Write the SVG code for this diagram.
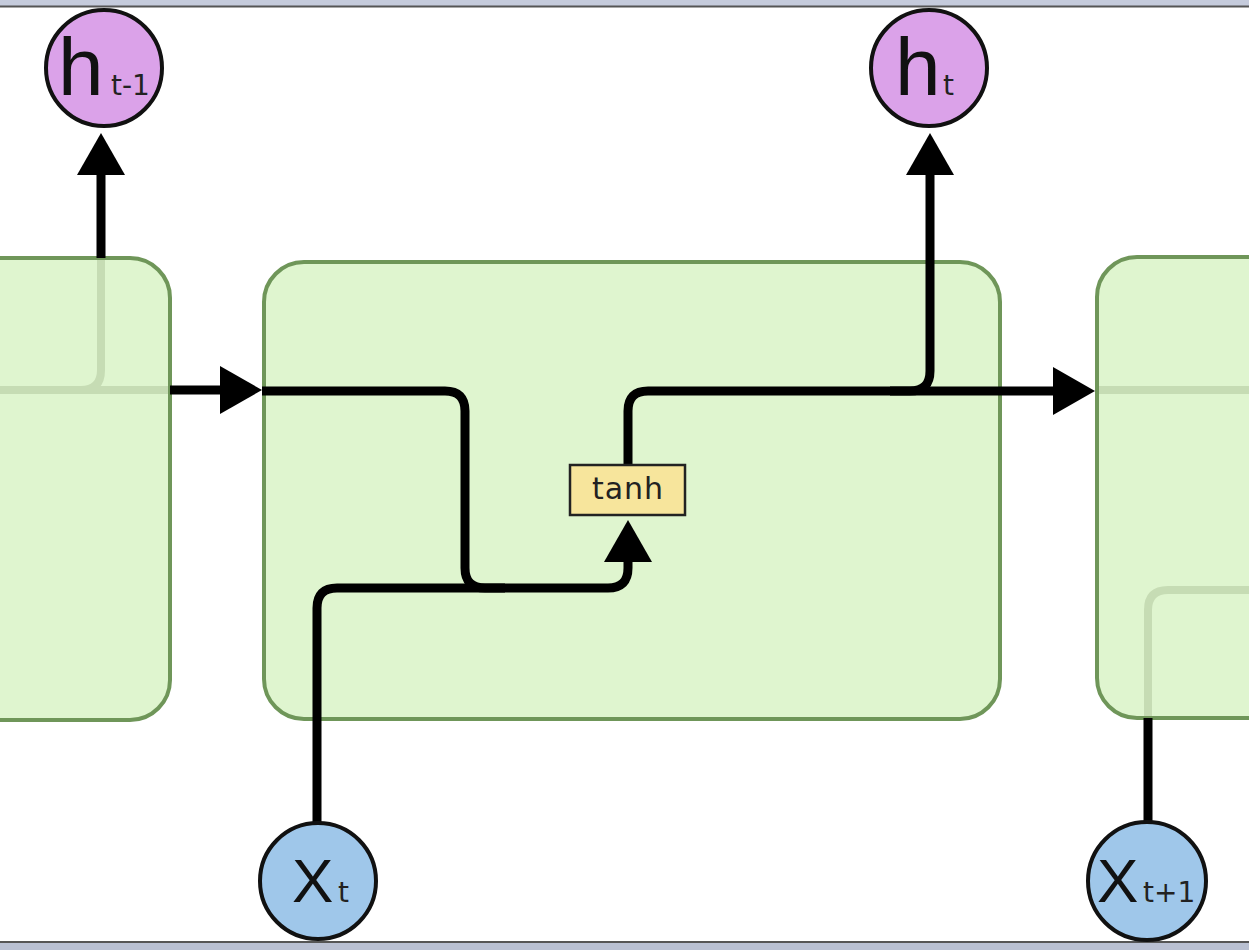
<svg xmlns="http://www.w3.org/2000/svg" width="1249" height="950" viewBox="0 0 1249 950">
<style>
.cell{fill:#dff5cf;stroke:none}
.cellb{fill:none;stroke:#6f9659;stroke-width:4}
.ghost{fill:none;stroke:#c6dcb4;stroke-width:8}
.wire{fill:none;stroke:#000;stroke-width:9;stroke-linejoin:round}
.big{font-family:"Liberation Sans",Arial,sans-serif;font-size:82px;fill:#111}
.bigx{font-family:"Liberation Sans",Arial,sans-serif;font-size:62px;fill:#111}
.sub{font-family:"DejaVu Sans",Verdana,sans-serif;font-size:28px;fill:#222}
.hnode{fill:#dba2e9;stroke:#111;stroke-width:4}
.xnode{fill:#9fc7ea;stroke:#111;stroke-width:4}
</style>
<defs>
<marker id="arr" viewBox="0 0 42 48" refX="12" refY="24" markerWidth="42" markerHeight="48" markerUnits="userSpaceOnUse" orient="auto">
<path d="M0,0 L42,24 L0,48 Z" fill="#000"/>
</marker>
</defs>
<rect width="1249" height="950" fill="#fff"/>
<g id="frame">
<rect x="0" y="0" width="1249" height="6" fill="#c5cbdc"/>
<line x1="0" y1="6.5" x2="1249" y2="6.5" stroke="#555" stroke-width="2"/>
<line x1="0" y1="942" x2="1249" y2="942" stroke="#555" stroke-width="2"/>
<rect x="0" y="943" width="1249" height="7" fill="#b9c0d2"/>
</g>
<g id="cell-prev">
<rect class="cell" x="-50" y="258" width="220" height="462" rx="40"/>
<path class="ghost" d="M101,258 V370 Q101,390 81,390 H-10"/>
<path class="ghost" d="M81,390 H170"/>
<rect class="cellb" x="-50" y="258" width="220" height="462" rx="40"/>
</g>
<g id="cell-curr">
<rect class="cell" x="264" y="262" width="736" height="457" rx="40"/>
<rect class="cellb" x="264" y="262" width="736" height="457" rx="40"/>
</g>
<g id="cell-next">
<rect class="cell" x="1097" y="257" width="250" height="461" rx="40"/>
<path class="ghost" d="M1097,390 H1260"/>
<path class="ghost" d="M1148,718 V610 Q1148,590 1168,590 H1260"/>
<rect class="cellb" x="1097" y="257" width="250" height="461" rx="40"/>
</g>
<g id="connectors">
<path class="wire" d="M101,258 V163" marker-end="url(#arr)"/>
<path class="wire" d="M170,390 H232" marker-end="url(#arr)"/>
<path class="wire" d="M262,391 H445 Q465,391 465,411 V568 Q465,588 485,588 H505"/>
<path class="wire" d="M317,823 V608 Q317,588 337,588 H608 Q628,588 628,568 V550" marker-end="url(#arr)"/>
<path class="wire" d="M628,465 V411 Q628,391 648,391 H1065" marker-end="url(#arr)"/>
<path class="wire" d="M890,391 H910 Q930,391 930,371 V163" marker-end="url(#arr)"/>
<path class="wire" d="M1148,718 V823"/>
</g>
<g id="tanh">
<rect x="570" y="465" width="115" height="50" fill="#f7e59c" stroke="#222" stroke-width="2.5"/>
<text x="628" y="499" text-anchor="middle" font-family="DejaVu Sans,Verdana,sans-serif" font-size="30" letter-spacing="1" fill="#222">tanh</text>
</g>
<g id="h-prev">
<circle class="hnode" cx="104" cy="68" r="58"/>
<text class="big" x="58" y="95">h</text>
<text class="sub" x="111" y="95">t-1</text>
</g>
<g id="h-curr">
<circle class="hnode" cx="929" cy="68" r="58"/>
<text class="big" x="895" y="95">h</text>
<text class="sub" x="943" y="95">t</text>
</g>
<g id="x-curr">
<circle class="xnode" cx="318" cy="881" r="58"/>
<text class="bigx" x="292" y="902">X</text>
<text class="sub" x="338" y="902">t</text>
</g>
<g id="x-next">
<circle class="xnode" cx="1147" cy="881" r="59"/>
<text class="bigx" x="1097" y="902">X</text>
<text class="sub" x="1143" y="902">t+1</text>
</g>
</svg>
